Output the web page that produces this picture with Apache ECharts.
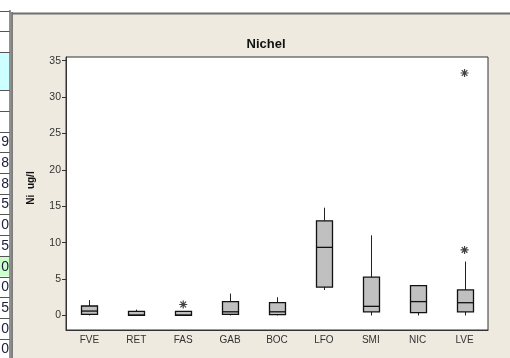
<!DOCTYPE html>
<html>
<head>
<meta charset="utf-8">
<script src="https://cdn.jsdelivr.net/npm/echarts@6/dist/echarts.min.js"></script>
<style>
  html, body { margin: 0; padding: 0; background: #ffffff; }
  #chart { width: 510px; height: 358px; }
</style>
</head>
<body>
<div id="chart"></div>
<script>
// ---- data ----
const categories = ['FVE', 'RET', 'FAS', 'GAB', 'BOC', 'LFO', 'SMI', 'NIC', 'LVE'];
const boxMin    = [0,    0,    0,    0,    0,    3.5,  0,    0,    0];
const boxQ1     = [0.15, 0,    0,    0.15, 0.1,  3.9,  0.5,  0.4,  0.5];
const boxMedian = [0.6,  0.05, 0.05, 0.5,  0.5,  9.35, 1.25, 1.9,  1.75];
const boxQ3     = [1.3,  0.55, 0.55, 1.9,  1.75, 13.0, 5.25, 4.1,  3.5];
const boxMax    = [2.1,  0.8,  0.6,  3.0,  2.5,  14.8, 11.0, 4.2,  7.4];
const outlierCats = ['FAS', 'LVE', 'LVE'];
const outlierVals = [1.5, 9.0, 33.3];
const yTickValues = [0, 5, 10, 15, 20, 25, 30, 35];
const tableDigits = ['9', '8', '8', '5', '0', '5', '0', '0', '5', '0', '0'];
const chartTitle = 'Nichel';
const yAxisTitle = 'Ni  ug/l';

// ---- build ----
const chart = echarts.init(document.getElementById('chart'));

const boxData = categories.map((c, i) => [i, boxMin[i], boxQ1[i], boxMedian[i], boxQ3[i], boxMax[i]]);
const outlierData = outlierCats.map((c, i) => [c, outlierVals[i]]);

// asterisk symbol path (4 bars)
function asteriskPath() {
  const L = 5, w = 0.75;
  let d = '';
  [90, 0, 45, 135].forEach(a => {
    const t = a * Math.PI / 180;
    const cx = Math.cos(t), sy = Math.sin(t);
    const nx = -sy, ny = cx;
    const pts = [
      [L * cx + w * nx, L * sy + w * ny],
      [L * cx - w * nx, L * sy - w * ny],
      [-L * cx - w * nx, -L * sy - w * ny],
      [-L * cx + w * nx, -L * sy + w * ny]
    ];
    d += 'M' + pts.map(p => p[0].toFixed(3) + ',' + p[1].toFixed(3)).join('L') + 'Z';
  });
  return 'path://' + d;
}

// panel background and spreadsheet fragment on the left
const graphics = [];
graphics.push({ type: 'rect', z: -20, shape: { x: 12, y: 13, width: 498, height: 345 }, style: { fill: '#EEEAE0' } });
graphics.push({ type: 'rect', z: -19, shape: { x: 0, y: 52, width: 9.5, height: 38 }, style: { fill: '#CCFFFF' } });
const rowTop = 131.6, rowH = 20.7;
graphics.push({ type: 'rect', z: -19, shape: { x: 0, y: rowTop + 6 * rowH, width: 9.5, height: rowH }, style: { fill: '#CCFFCC' } });
[10.7, 31, 52, 90, 111].concat(Array.from({ length: 12 }, (_, k) => rowTop + k * rowH)).forEach(y => {
  graphics.push({ type: 'line', z: -18, shape: { x1: 0, y1: Math.round(y) + 0.5, x2: 9.5, y2: Math.round(y) + 0.5 }, style: { stroke: '#555', lineWidth: 1 } });
});
tableDigits.forEach((d, k) => {
  graphics.push({
    type: 'text', z: -17,
    style: {
      text: d, x: 9, y: rowTop + k * rowH + rowH / 2 + 0.5,
      align: 'right', verticalAlign: 'middle',
      font: '14px "Liberation Sans", Arial, sans-serif', fill: '#1c1c3c'
    }
  });
});
graphics.push({ type: 'line', z: -16, shape: { x1: 10, y1: 10, x2: 10, y2: 358 }, style: { stroke: '#222', lineWidth: 1 } });
graphics.push({ type: 'line', z: -16, shape: { x1: 12, y1: 12, x2: 12, y2: 358 }, style: { stroke: '#333', lineWidth: 1.2 } });
graphics.push({ type: 'line', z: -16, shape: { x1: 12, y1: 13.5, x2: 510, y2: 13.5 }, style: { stroke: '#6e6e6e', lineWidth: 2 } });
graphics.push({
  type: 'text', rotation: Math.PI / 2, x: 31.5, y: 188,
  style: {
    text: yAxisTitle, align: 'center', verticalAlign: 'middle',
    font: 'bold 10px "Liberation Sans", Arial, sans-serif', fill: '#111'
  }
});

const option = {
  animation: false,
  backgroundColor: 'transparent',
  title: {
    text: chartTitle, left: 261, top: 33, textAlign: 'center',
    textStyle: { fontFamily: '"Liberation Sans", Arial, sans-serif', fontSize: 13, fontWeight: 'bold', color: '#111' }
  },
  graphic: graphics,
  grid: {
    left: 66, top: 57, right: 22, bottom: 28,
    show: true, backgroundColor: '#ffffff', borderColor: '#333', borderWidth: 1
  },
  xAxis: {
    type: 'category', data: categories, boundaryGap: true,
    axisLine: { onZero: false, lineStyle: { color: '#333' } },
    axisTick: { alignWithLabel: true, length: 4, lineStyle: { color: '#333' } },
    axisLabel: { margin: 5, color: '#333', fontSize: 10, fontFamily: '"Liberation Sans", Arial, sans-serif' },
    splitLine: { show: false }
  },
  yAxis: {
    type: 'value', min: -2, max: 35.5,
    axisLine: { show: true, lineStyle: { color: '#333' } },
    axisTick: { show: true, length: 4, customValues: yTickValues, lineStyle: { color: '#333' } },
    axisLabel: { margin: 5, customValues: yTickValues, color: '#333', fontSize: 10.5, fontFamily: '"Liberation Sans", Arial, sans-serif' },
    splitLine: { show: false }
  },
  series: [
    {
      type: 'custom',
      data: boxData,
      encode: { x: 0, y: [1, 2, 3, 4, 5] },
      renderItem: function (params, api) {
        const i = api.value(0);
        const pMin = api.coord([i, api.value(1)]);
        const pQ1 = api.coord([i, api.value(2)]);
        const pMed = api.coord([i, api.value(3)]);
        const pQ3 = api.coord([i, api.value(4)]);
        const pMax = api.coord([i, api.value(5)]);
        const cx = Math.round(pMin[0]) + 0.5;
        const hw = 8;
        const line = { stroke: '#222', lineWidth: 1 };
        return {
          type: 'group',
          children: [
            { type: 'line', shape: { x1: cx, y1: pMax[1], x2: cx, y2: pQ3[1] }, style: line },
            { type: 'line', shape: { x1: cx, y1: pQ1[1], x2: cx, y2: pMin[1] }, style: line },
            { type: 'rect', shape: { x: cx - hw, y: pQ3[1], width: hw * 2, height: Math.max(pQ1[1] - pQ3[1], 2) },
              style: { fill: '#C0C0C0', stroke: '#111', lineWidth: 1.3 } },
            { type: 'line', shape: { x1: cx - hw, y1: pMed[1], x2: cx + hw, y2: pMed[1] }, style: { stroke: '#111', lineWidth: 1.3 } }
          ]
        };
      }
    },
    {
      type: 'scatter',
      data: outlierData,
      symbol: asteriskPath(),
      symbolSize: 8,
      itemStyle: { color: '#111' }
    }
  ]
};
chart.setOption(option);
</script>
</body>
</html>
